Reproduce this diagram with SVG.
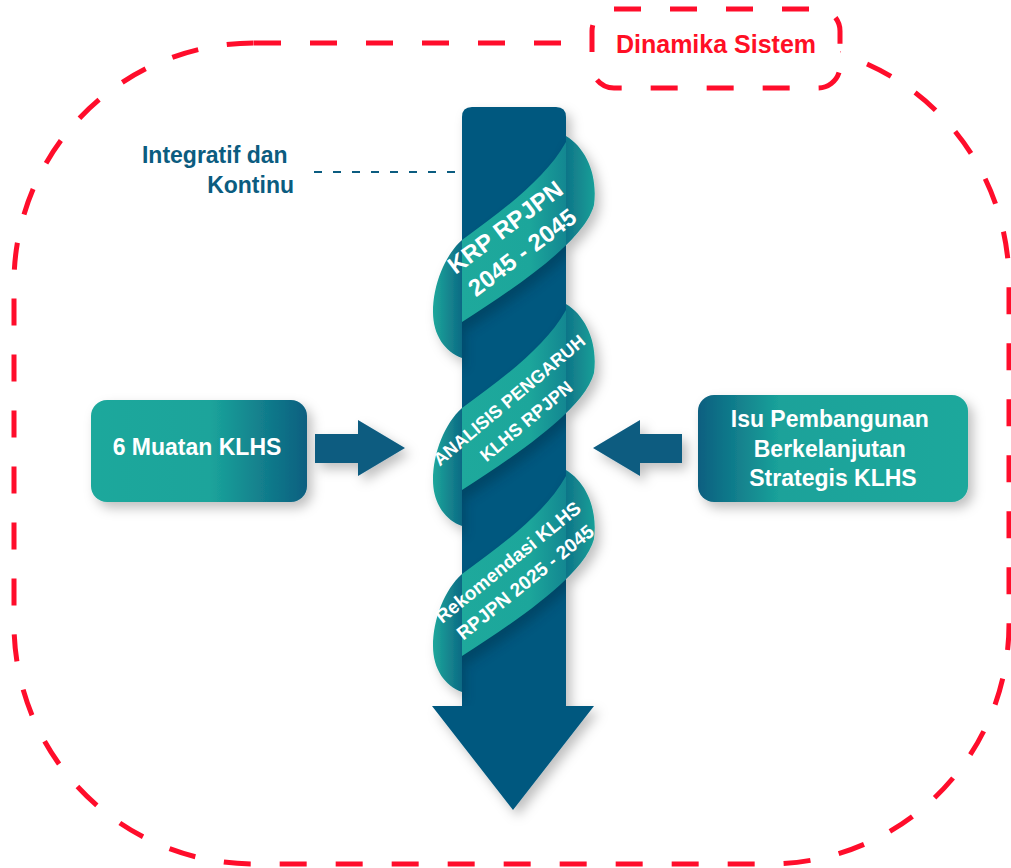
<svg xmlns="http://www.w3.org/2000/svg" width="1011" height="868" viewBox="0 0 1011 868">
  <defs>
    <style>
      .frame{fill:none;stroke:#ff0d2b;stroke-width:5;stroke-dasharray:27 29}
      .lbl{font-family:"Liberation Sans",Arial,sans-serif;font-weight:bold}
      .wt{fill:#ffffff}
      .navy{fill:#0b5c80}
      .arrow{fill:#0a5b80}
    </style>
    <linearGradient id="gBoxL" x1="0" y1="0" x2="1" y2="0">
      <stop offset="0" stop-color="#1ca89c"/>
      <stop offset="0.55" stop-color="#1ba49b"/>
      <stop offset="1" stop-color="#0a5f80"/>
    </linearGradient>
    <linearGradient id="gBoxR" x1="0" y1="0" x2="1" y2="0">
      <stop offset="0" stop-color="#0a5f80"/>
      <stop offset="0.3" stop-color="#1aa29a"/>
      <stop offset="1" stop-color="#1ca89c"/>
    </linearGradient>
    <linearGradient id="gBack" gradientUnits="userSpaceOnUse" x1="432" y1="0" x2="598" y2="0">
      <stop offset="0" stop-color="#1fa99c"/>
      <stop offset="0.18" stop-color="#0c6a84"/>
      <stop offset="0.8" stop-color="#0e7387"/>
      <stop offset="1" stop-color="#1ba49a"/>
    </linearGradient>
    <linearGradient id="gFront" gradientUnits="userSpaceOnUse" x1="462" y1="0" x2="566" y2="0">
      <stop offset="0" stop-color="#1ea99c"/>
      <stop offset="0.65" stop-color="#1ca69b"/>
      <stop offset="1" stop-color="#138791"/>
    </linearGradient>
    <clipPath id="shaftClip"><rect x="462" y="100" width="104" height="606"/></clipPath>
    <filter id="shadow" x="-30%" y="-30%" width="160%" height="160%">
      <feDropShadow dx="5" dy="6" stdDeviation="6" flood-color="#000000" flood-opacity="0.25"/>
    </filter>
    <filter id="soft" x="-30%" y="-30%" width="160%" height="160%">
      <feGaussianBlur stdDeviation="6"/>
    </filter>
    <!-- one turn of the ribbon: right bulge, front band, left bulge -->
    <path id="wrap" d="M566,136 C586,148 598,175 594,205 C585,240 520,285 462,322 L462,358 C445,352 433,335 433,312 C433,285 445,255 462,240 C500,212 545,180 566,142 Z"/>
  </defs>

  <!-- outer dashed frame -->
  <rect class="frame" x="14" y="43" width="995" height="821" rx="240" ry="240"/>

  <!-- title tag -->
  <g id="dinamika-sistem">
    <rect x="592" y="9" width="248" height="79" rx="22" fill="#ffffff" stroke="#ff0d2b" stroke-width="5" stroke-dasharray="27 29"/>
    <text class="lbl" x="716" y="53" font-size="25" fill="#ff0f25" text-anchor="middle">Dinamika Sistem</text>
  </g>

  <!-- central pole with ribbon -->
  <g id="pole">
    <g filter="url(#shadow)">
      <use href="#wrap" fill="url(#gBack)"/>
      <use href="#wrap" fill="url(#gBack)" transform="translate(0,168)"/>
      <use href="#wrap" fill="url(#gBack)" transform="translate(0,334)"/>
      <path fill="#06597f" d="M462,117 Q462,107 472,107 H556 Q566,107 566,117 V706 H594 L513,810 L432,706 H462 Z"/>
    </g>
    <g clip-path="url(#shaftClip)">
      <g filter="url(#soft)" opacity="0.35">
        <use href="#wrap" fill="#00263a" transform="translate(2,10)"/>
        <use href="#wrap" fill="#00263a" transform="translate(2,178)"/>
        <use href="#wrap" fill="#00263a" transform="translate(2,344)"/>
      </g>
      <use href="#wrap" fill="url(#gFront)"/>
      <use href="#wrap" fill="url(#gFront)" transform="translate(0,168)"/>
      <use href="#wrap" fill="url(#gFront)" transform="translate(0,334)"/>
    </g>
  </g>

  <g id="ribbon-krp" class="lbl wt" text-anchor="middle">
    <text font-size="24" dy="0.36em" transform="translate(505,227) rotate(-37)">KRP RPJPN</text>
    <text font-size="24" dy="0.36em" transform="translate(522,252) rotate(-37)">2045 - 2045</text>
  </g>
  <g id="ribbon-analisis" class="lbl wt" text-anchor="middle">
    <text font-size="18" dy="0.36em" transform="translate(509,400) rotate(-40)">ANALISIS PENGARUH</text>
    <text font-size="18" dy="0.36em" transform="translate(526,421) rotate(-40)">KLHS RPJPN</text>
  </g>
  <g id="ribbon-rekomendasi" class="lbl wt" text-anchor="middle">
    <text font-size="19" dy="0.36em" transform="translate(508,562) rotate(-39)">Rekomendasi KLHS</text>
    <text font-size="19" dy="0.36em" transform="translate(525,582) rotate(-39)">RPJPN 2025 - 2045</text>
  </g>

  <!-- side inputs -->
  <g id="muatan-klhs">
    <rect x="91" y="400" width="216" height="102" rx="16" fill="url(#gBoxL)" filter="url(#shadow)"/>
    <text class="lbl wt" x="197" y="455" font-size="23" text-anchor="middle">6 Muatan KLHS</text>
  </g>
  <g id="isu-pembangunan">
    <rect x="698" y="395" width="270" height="107" rx="16" fill="url(#gBoxR)" filter="url(#shadow)"/>
    <text class="lbl wt" font-size="23" text-anchor="middle">
      <tspan x="833" y="427">Isu Pembangunan</tspan>
      <tspan x="833" y="457">Berkelanjutan</tspan>
      <tspan x="833" y="486">Strategis KLHS</tspan>
    </text>
  </g>
  <g id="integratif">
    <text class="lbl navy" font-size="23" text-anchor="end">
      <tspan x="294" y="163">Integratif dan</tspan>
      <tspan x="294" y="193">Kontinu</tspan>
    </text>
  </g>

  <!-- connectors -->
  <g id="connectors">
    <path class="arrow" filter="url(#shadow)" d="M315,434 H358 V420 L405,448 L358,476 V463 H315 Z"/>
    <path class="arrow" filter="url(#shadow)" d="M682,434 H640 V420 L593,448 L640,476 V463 H682 Z"/>
    <path d="M455,172 H308" fill="none" stroke="#0b5c80" stroke-width="2.2" stroke-dasharray="8 11"/>
  </g>
</svg>
